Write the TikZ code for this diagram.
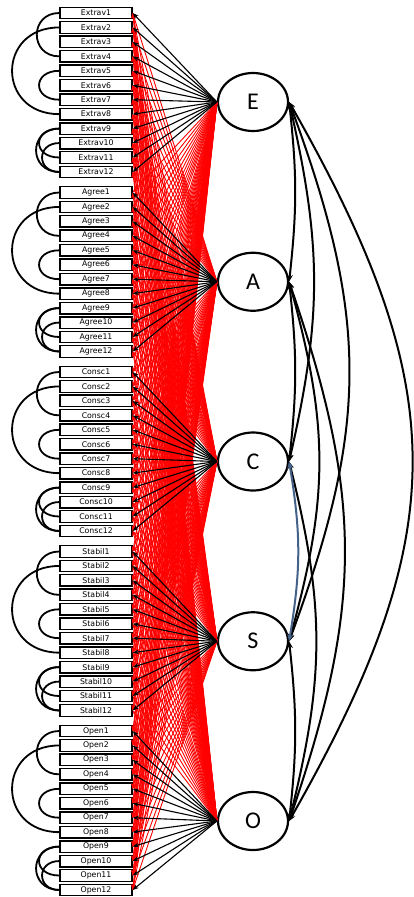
\documentclass[tikz,border=0pt]{standalone}
\usepackage{fontspec}
\setmainfont{Carlito}
\newfontfamily\itemfont{DejaVu Sans}
\usetikzlibrary{shapes.geometric,arrows.meta}
\begin{document}
\begin{tikzpicture}[x=1pt,y=-1pt,
  itembox/.style={draw,line width=1.4pt,minimum width=72pt,minimum height=11.5pt,inner sep=0pt,fill=white,font=\itemfont\fontsize{7.8}{7.8}\selectfont},
  factor/.style={ellipse,draw,line width=2.2pt,minimum width=70pt,minimum height=58pt,inner sep=0pt,font=\fontsize{24}{24}\selectfont},
  load/.style={line width=1.1pt,-{Stealth[length=6pt,width=4.5pt]}},
  cross/.style={red,line width=0.9pt,-{Stealth[length=5pt,width=4pt]}},
  errcov/.style={line width=1.8pt},
  fcov/.style={line width=2pt,{Stealth[length=7pt,width=6pt]}-{Stealth[length=7pt,width=6pt]}},
  bluecov/.style={fcov,color={rgb,255:red,68;green,97;blue,138}}
]
\useasboundingbox (0,0) rectangle (414,897);

% items
\foreach \g/\name [count=\gi from 0] in {E/Extrav,A/Agree,C/Consc,S/Stabil,O/Open} {
  \foreach \i in {1,...,12} {
    \node[itembox] (\g\i) at (96,{13+179.5*\gi+14.45*(\i-1)}) {\name\i};
  }
}
% factors
\foreach \g [count=\gi from 0] in {E,A,C,S,O} {
  \node[factor] (\g) at (253,{102+179.75*\gi}) {\g};
}

% cross loadings (red)
\foreach \f [count=\p] in {E,A,C,S,O} {
  \foreach \g [count=\q] in {E,A,C,S,O} {
    \ifnum\p=\q\else
      \foreach \i in {1,...,12} {\draw[cross] (\f.west) -- (\g\i.east);}
    \fi
  }
}
% main loadings (black)
\foreach \g in {E,A,C,S,O} {
  \foreach \i in {1,...,12} {\draw[load] (\g.west) -- (\g\i.east);}
}

% error covariances
\foreach \g in {E,A,C,S,O} {
  \draw[errcov] (\g1.west) .. controls +(-30,0) and +(-30,0) .. (\g4.west);
  \draw[errcov] (\g2.west) .. controls +(-63,0) and +(-63,0) .. (\g8.west);
  \draw[errcov] (\g5.west) .. controls +(-27,0) and +(-27,0) .. (\g7.west);
  \draw[errcov] (\g9.west) .. controls +(-27,0) and +(-27,0) .. (\g11.west);
  \draw[errcov] (\g9.west) .. controls +(-31,0) and +(-31,0) .. (\g12.west);
  \draw[errcov] (\g10.west) .. controls +(-23,0) and +(-23,0) .. (\g12.west);
}

% factor covariances
\draw[fcov] (E.east) .. controls +(8,72) and +(8,-72) .. (A.east);
\draw[fcov] (A.east) .. controls +(8,72) and +(8,-72) .. (C.east);
\draw[fcov] (S.east) .. controls +(8,72) and +(8,-72) .. (O.east);
\draw[fcov] (E.east) .. controls +(33,144) and +(33,-144) .. (C.east);
\draw[fcov] (A.east) .. controls +(40,144) and +(40,-144) .. (S.east);
\draw[fcov] (C.east) .. controls +(36,144) and +(36,-144) .. (O.east);
\draw[fcov] (E.east) .. controls +(80,216) and +(80,-216) .. (S.east);
\draw[fcov] (A.east) .. controls +(74,216) and +(74,-216) .. (O.east);
\draw[fcov] (E.east) .. controls +(164,288) and +(164,-288) .. (O.east);
\draw[bluecov] (C.east) .. controls +(12,72) and +(12,-72) .. (S.east);
\end{tikzpicture}
\end{document}
